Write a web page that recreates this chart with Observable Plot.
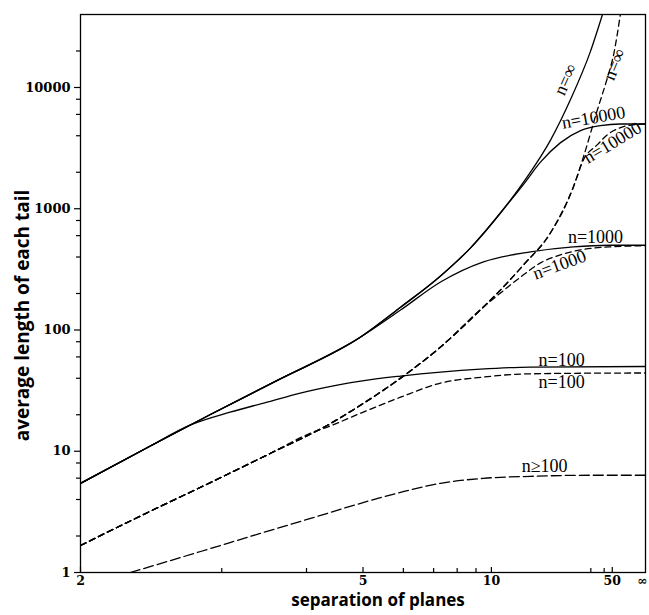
<!DOCTYPE html>
<html><head><meta charset="utf-8">
<script src="https://cdn.jsdelivr.net/npm/d3@7"></script>
<script src="https://cdn.jsdelivr.net/npm/@observablehq/plot@0.6"></script>
<style>body{margin:0;background:#fff}#chart svg{display:block}</style>
</head><body><div id="chart"></div>
<script>
// x axis: separation of planes (axis is linear in 1/(s+1))
const sepTicks = [2, 5, 10, 50, Infinity];
const sepTickLabels = ["2", "5", "10", "50", "∞"];
const sepMinor = [3, 4, 6, 7, 8, 9, 30, 40];
// y axis: average length of each tail (log)
const yTicks = [1, 10, 100, 1000, 10000];
const yTickLabels = ["1", "10", "100", "1000", "10000"];
const yMinor = [2, 4, 6, 8, 20, 40, 60, 80, 200, 400, 600, 800, 2000, 4000, 6000, 8000, 20000];

// solid curves
const solidInfSep = [2, 2.42, 2.9, 3.61, 4.95, 5.92, 7.27, 8.69, 10.7, 13.1, 16.9, 21.6, 29.8, 38.4];
const solidInfVal = [5.44, 11.0, 20.2, 38.6, 87.5, 154, 279, 476, 927, 1738, 3720, 7960, 19850, 40000];
const solid10000Sep = [2, 2.42, 2.9, 3.61, 4.95, 5.92, 7.27, 8.69, 10.7, 13.1, 15.1, 18.95, 25.1, 36.5, 66.9, Infinity];
const solid10000Val = [5.44, 11.0, 20.2, 38.6, 87.5, 154, 279, 476, 927, 1660, 2410, 3510, 4410, 4850, 5000, 5000];
const solid1000Sep = [2, 2.42, 2.9, 3.61, 4.95, 5.92, 7.27, 9.46, 13.74, 22.5, 47.4, Infinity];
const solid1000Val = [5.44, 11.0, 20.2, 38.6, 87.5, 146, 249, 365, 441, 485, 500, 500];
const solid100Sep = [2, 2.42, 2.72, 3.08, 3.48, 3.91, 4.5, 4.95, 5.92, 7.27, 9.27, 13.74, Infinity];
const solid100Val = [5.44, 11.0, 16.4, 21.0, 25.4, 30.2, 35.1, 37.9, 41.7, 45.0, 47.6, 49.5, 50];

// dashed curves
const dashInfSep = [2, 2.42, 2.9, 3.52, 4.33, 4.95, 5.92, 7.27, 9.46, 10.69, 12.89, 16.85, 22.54, 26.35, 34.3, 43.6, 52, 66.9];
const dashInfVal = [1.67, 3.19, 5.54, 9.62, 16.4, 24.0, 40.1, 72.4, 155, 214, 344, 634, 1520, 2690, 6580, 12100, 18500, 41000];
const dash10000Sep = [2, 2.42, 2.9, 3.52, 4.33, 4.95, 5.92, 7.27, 9.46, 10.69, 12.89, 16.85, 22.54, 26.35, 34.3, 43.6, 66.9, 167, Infinity];
const dash10000Val = [1.67, 3.19, 5.54, 9.62, 16.4, 24.0, 40.1, 72.4, 155, 214, 344, 634, 1520, 2540, 3380, 4090, 4670, 4950, 5000];
const dash1000Sep = [2, 2.42, 2.9, 3.52, 4.33, 4.95, 5.92, 7.27, 9.46, 10.69, 12.89, 15.14, 18.95, 25.1, 47.4, Infinity];
const dash1000Val = [1.67, 3.19, 5.54, 9.62, 16.4, 24.0, 40.1, 72.4, 155, 202, 285, 358, 417, 458, 485, 495];
const dash100Sep = [2, 2.42, 2.9, 3.52, 4.06, 4.38, 4.95, 5.92, 7.27, 9.46, 12.56, 25.1, Infinity];
const dash100Val = [1.67, 3.19, 5.54, 9.62, 14.1, 16.2, 20.6, 27.9, 36.5, 40.9, 43.3, 44.0, 44.2];

// long-dashed curve n>=100
const longDashSep = [2.29, 2.81, 3.40, 4.06, 4.95, 5.92, 7.27, 9.46, 13.74, 29.8, Infinity];
const longDashVal = [1.0, 1.49, 2.10, 2.79, 3.72, 4.58, 5.44, 5.98, 6.21, 6.34, 6.34];

// curve labels
const labelText = ["n=∞", "n=∞", "n=10000", "n=10000", "n=1000", "n=1000", "n=100", "n=100", "n≥100"];
const labelSep = [20.2, 53.6, 31.6, 50.4, 32.9, 18.7, 19.2, 19.2, 15.8];
const labelVal = [11650, 15500, 5650, 3510, 587, 345, 56.5, 37.2, 7.52];
const labelAngle = [-66, -68, -10, -31, 0, -20, 0, 0, 0];

const tx = s => 1 - 3 / (s + 1);
const rows = (name, seps, vals) => seps.map((s, i) => ({name, x: tx(s), v: vals[i]}));

const solidRows = [
  ...rows("inf", solidInfSep, solidInfVal),
  ...rows("10000", solid10000Sep, solid10000Val),
  ...rows("1000", solid1000Sep, solid1000Val),
  ...rows("100", solid100Sep, solid100Val)
];
const dashRows = [
  ...rows("inf", dashInfSep, dashInfVal),
  ...rows("10000", dash10000Sep, dash10000Val),
  ...rows("1000", dash1000Sep, dash1000Val),
  ...rows("100", dash100Sep, dash100Val)
];
const longRows = rows("ge100", longDashSep, longDashVal);
const labels = labelText.map((t, i) => ({t, x: tx(labelSep[i]), v: labelVal[i], a: labelAngle[i]}));

const tickFont = "DejaVu Serif";
const titleFont = "Open Sans";
const xMajor = sepTicks.map(tx);
const xMajorFinite = xMajor.slice(0, -1);
const xMajorLast = xMajor.slice(-1);

const tickText = {fontFamily: tickFont, fontWeight: "bold", fontSize: 12.5};

const chart = Plot.plot({
  width: 649,
  height: 615,
  marginLeft: 80,
  marginRight: 4,
  marginTop: 14,
  marginBottom: 43,
  style: {background: "#fff", color: "#000"},
  x: {type: "linear", domain: [0, 1], axis: null},
  y: {type: "log", domain: [1, 40000], axis: null},
  marks: [
    Plot.frame({stroke: "#000", strokeWidth: 1.3}),
    Plot.axisY(yMinor, {label: null, tickSize: 4, tickFormat: () => "", strokeWidth: 1.2}),
    Plot.axisY(yTicks, {label: null, tickSize: 6, tickPadding: 4, strokeWidth: 1.2,
      tickFormat: d => yTickLabels[yTicks.indexOf(d)], ...tickText, fontSize: 13}),
    Plot.axisX(sepMinor.map(tx), {label: null, tickSize: -4, tickPadding: 0, tickFormat: () => "", strokeWidth: 1.2}),
    Plot.axisX(xMajorFinite, {label: null, tickSize: -5, tickPadding: 9, strokeWidth: 1.2,
      tickFormat: d => sepTickLabels[xMajor.indexOf(d)], ...tickText}),
    Plot.axisX(xMajorLast, {label: null, tickSize: 0, tickPadding: 4, dx: -3,
      tickFormat: d => sepTickLabels[xMajor.indexOf(d)], ...tickText}),
    Plot.line(solidRows, {x: "x", y: "v", z: "name", stroke: "#000", strokeWidth: 1.3, curve: "monotone-x", clip: true}),
    Plot.line(dashRows, {x: "x", y: "v", z: "name", stroke: "#000", strokeWidth: 1.3, strokeDasharray: "6,4", curve: "monotone-x", clip: true}),
    Plot.line(longRows, {x: "x", y: "v", stroke: "#000", strokeWidth: 1.3, strokeDasharray: "10,4", curve: "monotone-x", clip: true}),
    Plot.text(labels, {x: "x", y: "v", text: "t", rotate: "a", fontFamily: "Liberation Serif", fontSize: 18, fill: "#000", lineAnchor: "middle", textAnchor: "middle"}),
    Plot.text(["separation of planes"], {frameAnchor: "bottom", textAnchor: "middle", dx: 15, dy: 33, fontFamily: titleFont, fontWeight: "bold", fontSize: 17, fill: "#000"}),
    Plot.text(["average length of each tail"], {frameAnchor: "left", textAnchor: "middle", rotate: -90, dx: -58, dy: 22, fontFamily: titleFont, fontWeight: "bold", fontSize: 19, fill: "#000"})
  ]
});
document.getElementById("chart").appendChild(chart);
</script>
</body></html>
